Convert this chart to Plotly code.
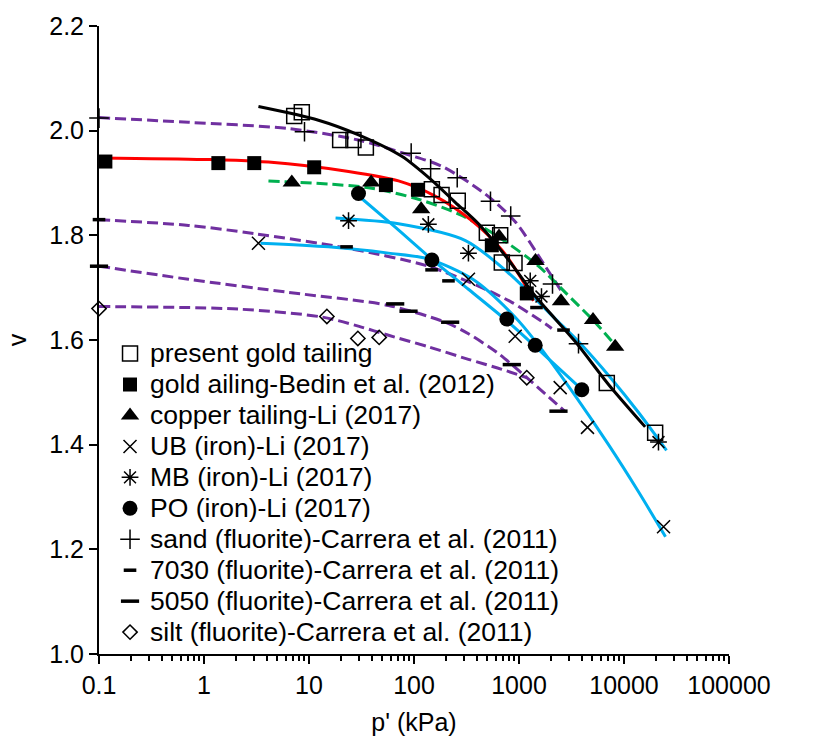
import plotly.graph_objects as go

# ---------------- measured points ----------------
present_gold_p = [7.23, 8.54, 19.8, 26.5, 34.8, 148, 183, 261, 494, 662, 686, 906, 6860, 19800]
present_gold_v = [2.028, 2.035, 1.982, 1.982, 1.968, 1.888, 1.877, 1.866, 1.805, 1.800, 1.748, 1.747, 1.518, 1.423]

bedin_p = [0.115, 1.37, 3.01, 11.2, 54, 109, 551, 1186]
bedin_v = [1.941, 1.938, 1.938, 1.930, 1.896, 1.887, 1.781, 1.689]

copper_p = [6.86, 39.1, 117, 645, 1436, 2512, 5070, 8240]
copper_v = [1.901, 1.901, 1.850, 1.798, 1.751, 1.674, 1.638, 1.587]

ub_p = [3.30, 330, 920, 2467, 4490, 23800]
ub_v = [1.785, 1.716, 1.607, 1.509, 1.433, 1.243]

mb_p = [23.8, 137, 330, 1279, 1637, 21300]
mb_v = [1.828, 1.821, 1.766, 1.713, 1.683, 1.405]

po_p = [29.6, 148, 766, 1427, 3963]
po_v = [1.880, 1.753, 1.640, 1.590, 1.505]

sand_p = [0.1, 9.06, 94, 144, 258, 535, 834, 2085, 3688]
sand_v = [2.024, 1.998, 1.957, 1.927, 1.910, 1.865, 1.837, 1.707, 1.593]

f7030_p = [0.1, 22.8, 147, 213, 1468, 2654]
f7030_v = [1.830, 1.778, 1.734, 1.713, 1.662, 1.619]

f5050_p = [0.1, 66.2, 88.7, 221, 854, 2377]
f5050_v = [1.741, 1.669, 1.655, 1.634, 1.553, 1.464]

silt_p = [0.1, 14.8, 29.2, 46.6, 1186]
silt_v = [1.660, 1.645, 1.603, 1.605, 1.528]

# ---------------- fitted compression curves ----------------
fit_present_p = [3.30, 12.3, 29.6, 76.5, 148, 247, 411, 794, 1427, 3430, 7120, 15900]
fit_present_v = [2.046, 2.020, 1.992, 1.951, 1.905, 1.863, 1.822, 1.753, 1.684, 1.597, 1.515, 1.434]

fit_bedin_p = [0.1, 1.0, 4.11, 23.8, 71.2, 159, 355, 686, 1063, 1374]
fit_bedin_v = [1.948, 1.945, 1.940, 1.922, 1.904, 1.875, 1.828, 1.772, 1.716, 1.675]

fit_copper_p = [4.11, 36.9, 110, 285, 638, 1535, 2754, 5125, 8240]
fit_copper_v = [1.904, 1.891, 1.869, 1.838, 1.797, 1.741, 1.691, 1.637, 1.590]

fit_ub_p = [3.45, 15.3, 57.2, 137, 369, 906, 1468, 3530, 7120, 13740, 24850]
fit_ub_v = [1.785, 1.778, 1.766, 1.755, 1.715, 1.645, 1.595, 1.490, 1.400, 1.310, 1.224]

fit_mb_p = [17.9, 71.2, 309, 794, 2228, 3688, 7650, 13700, 19950, 25400]
fit_mb_v = [1.833, 1.822, 1.790, 1.728, 1.640, 1.597, 1.525, 1.462, 1.418, 1.389]

fit_po_p = [28.3, 66.7, 137, 330, 794, 1750, 3936]
fit_po_v = [1.879, 1.815, 1.760, 1.697, 1.634, 1.571, 1.506]

fit_sand_p = [0.1, 0.711, 6.38, 29.6, 88.7, 184, 477, 920, 1778, 2600]
fit_sand_v = [2.025, 2.016, 2.004, 1.982, 1.954, 1.932, 1.879, 1.826, 1.741, 1.690]

fit_7030_p = [0.1, 0.711, 3.07, 23.8, 137, 411, 854, 1778, 2051]
fit_7030_v = [1.830, 1.819, 1.803, 1.775, 1.741, 1.703, 1.672, 1.631, 1.622]

fit_5050_p = [0.1, 0.711, 6.38, 57.2, 198, 330, 638, 854, 1186, 1778, 2754]
fit_5050_v = [1.741, 1.716, 1.691, 1.666, 1.634, 1.612, 1.574, 1.553, 1.528, 1.497, 1.463]

fit_silt_p = [0.1, 2.13, 13.2, 30, 57.2, 137, 330, 686, 1186]
fit_silt_v = [1.664, 1.659, 1.644, 1.626, 1.609, 1.587, 1.563, 1.544, 1.528]

x_tick_vals = [0.1, 1, 10, 100, 1000, 10000, 100000]
x_tick_text = ["0.1", "1", "10", "100", "1000", "10000", "100000"]

FONT = "Liberation Sans, Arial, sans-serif"
PURPLE = "#7030A0"
GREEN = "#00B050"
RED = "#FF0000"
BLUE = "#00B0F0"
DASH = "11px,5px"

fig = go.Figure()


def add_curve(p, v, color, dash="solid"):
    fig.add_trace(go.Scatter(
        x=p, y=v, mode="lines", showlegend=False, hoverinfo="skip",
        line=dict(color=color, width=3, dash=dash, shape="spline", smoothing=0.8),
    ))


add_curve(fit_sand_p, fit_sand_v, PURPLE, DASH)
add_curve(fit_7030_p, fit_7030_v, PURPLE, DASH)
add_curve(fit_5050_p, fit_5050_v, PURPLE, DASH)
add_curve(fit_silt_p, fit_silt_v, PURPLE, DASH)
add_curve(fit_copper_p, fit_copper_v, GREEN, DASH)
add_curve(fit_ub_p, fit_ub_v, BLUE)
add_curve(fit_mb_p, fit_mb_v, BLUE)
add_curve(fit_po_p, fit_po_v, BLUE)
add_curve(fit_bedin_p, fit_bedin_v, RED)
add_curve(fit_present_p, fit_present_v, "black")


def add_points(p, v, name, symbol, size, lw=1.5):
    fig.add_trace(go.Scatter(
        x=p, y=v, mode="markers", cliponaxis=False,
        name='<span style="font-size:26.5px">' + name + "</span>",
        marker=dict(symbol=symbol, size=size, color="black",
                    line=dict(color="black", width=lw)),
    ))


add_points(present_gold_p, present_gold_v, "present gold tailing", "square-open", 15)
add_points(bedin_p, bedin_v, "gold ailing-Bedin et al. (2012)", "square", 14, 0)
add_points(copper_p, copper_v, "copper tailing-Li (2017)", "triangle-up", 16, 0)
add_points(ub_p, ub_v, "UB (iron)-Li (2017)", "x-thin-open", 13)
add_points(mb_p, mb_v, "MB (iron)-Li (2017)", "asterisk-open", 14)
add_points(po_p, po_v, "PO (iron)-Li (2017)", "circle", 15, 0)
add_points(sand_p, sand_v, "sand (fluorite)-Carrera et al. (2011)", "cross-thin-open", 14)
add_points(f7030_p, f7030_v, "7030 (fluorite)-Carrera et al. (2011)", "line-ew-open", 9, 3.5)
add_points(f5050_p, f5050_v, "5050 (fluorite)-Carrera et al. (2011)", "line-ew-open", 13, 3.5)
add_points(silt_p, silt_v, "silt (fluorite)-Carrera et al. (2011)", "diamond-open", 11)

minor_vals = [m * 10 ** k for k in range(-1, 5) for m in range(2, 10)]

fig.update_layout(
    width=817, height=744,
    margin=dict(l=99, r=88, t=20, b=86),
    paper_bgcolor="white", plot_bgcolor="white",
    font=dict(family=FONT, size=25, color="black"),
    legend=dict(x=0.0175, y=0.511, xanchor="left", yanchor="top",
                bgcolor="rgba(0,0,0,0)", font=dict(family=FONT, size=21.5, color="black"),
                tracegroupgap=0),
    xaxis=dict(
        type="log", range=[-1, 5], tickvals=x_tick_vals, ticktext=x_tick_text,
        ticks="outside", ticklen=8, tickwidth=2, tickcolor="black",
        showline=True, linecolor="black", linewidth=2,
        showgrid=False, zeroline=False,
        minor=dict(tickvals=minor_vals, ticks="outside", ticklen=5, tickwidth=1.5, tickcolor="black"),
        title=dict(text="p' (kPa)", font=dict(size=25)),
    ),
    yaxis=dict(
        range=[1.0, 2.2], tick0=1.0, dtick=0.2, tickformat=".1f",
        ticks="outside", ticklen=8, tickwidth=2, tickcolor="black",
        showline=True, linecolor="black", linewidth=2,
        showgrid=False, zeroline=False,
        title=dict(text="v", font=dict(size=25)),
    ),
)

fig.write_html("out.html")
